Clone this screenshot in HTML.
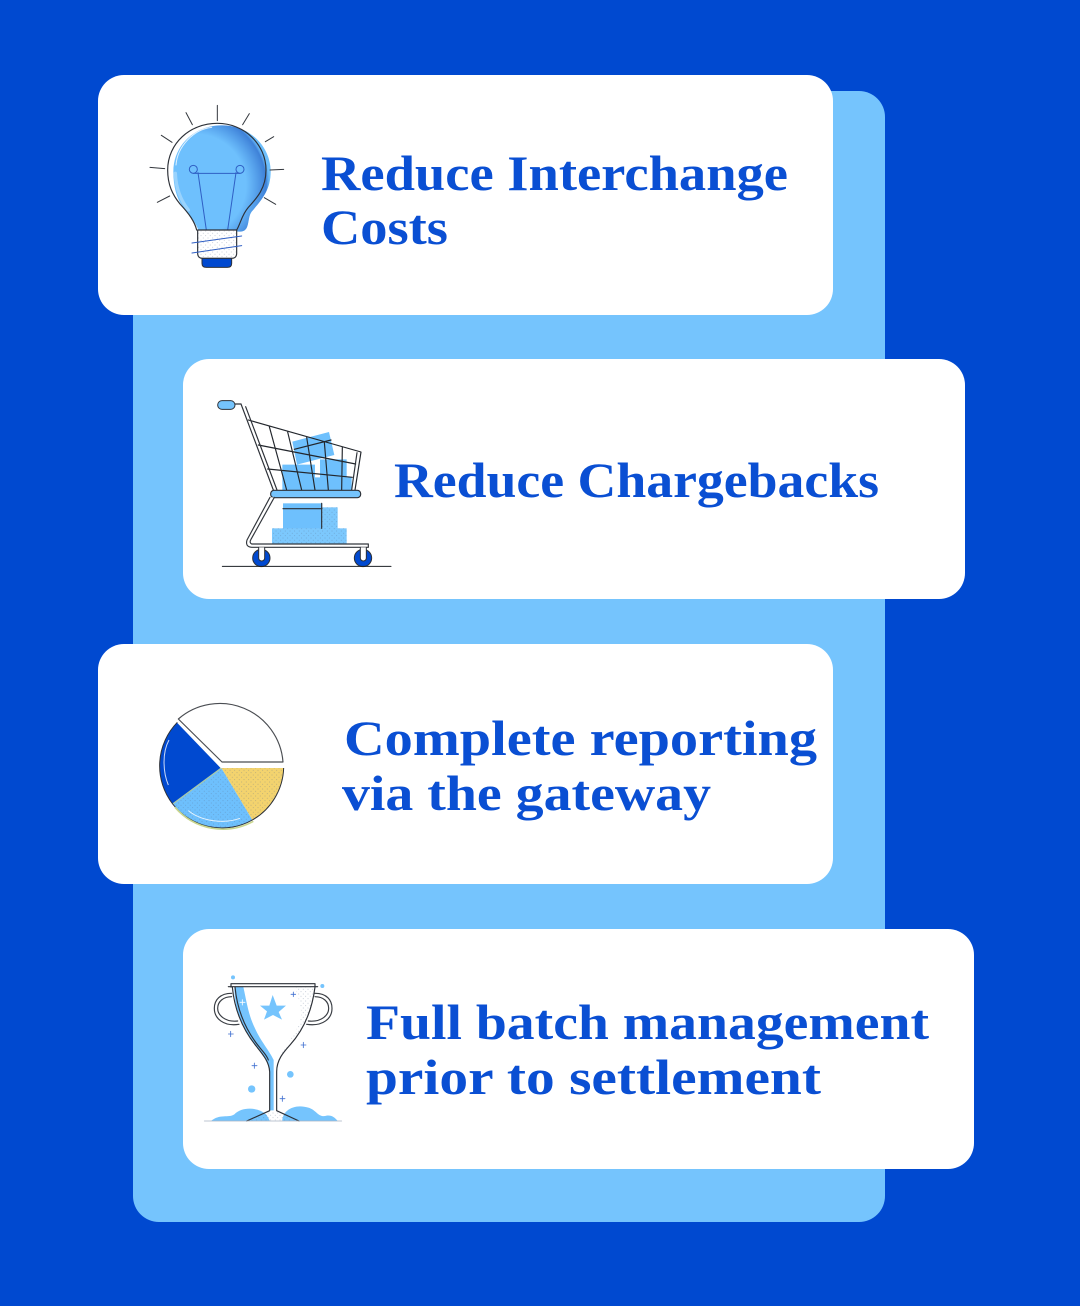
<!DOCTYPE html>
<html lang="en"><head><meta charset="utf-8"><title>Benefits</title>
<style>html,body{margin:0;padding:0;background:#0049d0}svg{display:block}
text{font-family:"Liberation Serif",serif;font-weight:700;font-size:50px;fill:#0a4fd3}</style></head>
<body>
<svg xmlns="http://www.w3.org/2000/svg" width="1080" height="1306" viewBox="0 0 1080 1306">
<defs>
<pattern id="dots" width="14" height="14" patternUnits="userSpaceOnUse"><circle cx="3" cy="3" r="1.5" fill="#5a6f8f" opacity=".4"/><circle cx="10" cy="10" r="1.5" fill="#5a6f8f" opacity=".4"/></pattern>
<pattern id="dotsL" width="15" height="15" patternUnits="userSpaceOnUse"><circle cx="4" cy="4" r="1.7" fill="#7d8899" opacity=".6"/></pattern>
<radialGradient id="shade" gradientUnits="userSpaceOnUse" cx="195" cy="285" r="225"><stop offset=".68" stop-color="#2f6fd0" stop-opacity="0"/><stop offset=".95" stop-color="#2a66c8" stop-opacity=".7"/><stop offset="1" stop-color="#6ec0fd" stop-opacity=".4"/></radialGradient>
</defs>
<rect width="1080" height="1306" fill="#0049d0"/>
<rect x="133" y="91" width="752" height="1131" rx="26" fill="#75c4fd"/>
<rect x="98" y="75" width="735" height="240" rx="26" fill="#fff"/>
<rect x="183" y="359" width="782" height="240" rx="26" fill="#fff"/>
<rect x="98" y="644" width="735" height="240" rx="26" fill="#fff"/>
<rect x="183" y="929" width="791" height="240" rx="26" fill="#fff"/>

<text x="321" y="190" textLength="467" lengthAdjust="spacingAndGlyphs">Reduce Interchange</text>
<text x="321" y="244" textLength="127" lengthAdjust="spacingAndGlyphs">Costs</text>
<text x="394" y="497" textLength="485" lengthAdjust="spacingAndGlyphs">Reduce Chargebacks</text>
<text x="344" y="755" textLength="473" lengthAdjust="spacingAndGlyphs">Complete reporting</text>
<text x="342" y="810" textLength="369" lengthAdjust="spacingAndGlyphs">via the gateway</text>
<text x="366" y="1039" textLength="563" lengthAdjust="spacingAndGlyphs">Full batch management</text>
<text x="366" y="1094" textLength="455" lengthAdjust="spacingAndGlyphs">prior to settlement</text>

<!-- bulb -->
<g transform="translate(130 90) scale(.33333)" fill="none" stroke-linecap="round" stroke-linejoin="round">
<path d="M205 420C195 395 180 375 158 350C140 325 130 290 130 245C130 165 195 106 275 106C360 106 422 170 422 245C422 300 395 330 365 365C350 385 362 425 330 425Z" fill="#6ec0fd"/>
<path d="M205 420C195 395 180 375 158 350C140 325 130 290 130 245C130 165 195 106 275 106C360 106 422 170 422 245C422 300 395 330 365 365C350 385 362 425 330 425Z" fill="url(#shade)"/>
<path d="M136 250C138 300 155 335 175 360" stroke="#fff" stroke-width="10" opacity=".3"/>
<path d="M200 420C194 395 178 372 150 342C128 315 113 285 113 240C113 160 180 100 262 100C345 100 408 165 408 240C408 295 380 325 355 352C335 375 332 400 320 420" stroke="#2d3138" stroke-width="3.5"/>
<path d="M138 225C142 170 190 118 245 112" stroke="#fff" stroke-width="3" opacity=".8"/>
<path d="M229 420L204 248M293 420L318 248M190 250H330" stroke="#2f5fc4" stroke-width="3"/>
<circle cx="190" cy="238" r="12" stroke="#2f5fc4" stroke-width="3"/><circle cx="330" cy="238" r="12" stroke="#2f5fc4" stroke-width="3"/>
<path d="M203 420H320V490Q320 505 305 505H218Q203 505 203 490Z" fill="#fff" stroke="#2d3138" stroke-width="3.5"/>
<rect x="205" y="422" width="113" height="81" fill="url(#dots)"/>
<path d="M216 505H305V520Q305 532 292 532H229Q216 532 216 520Z" fill="#0049d0" stroke="#2d3138" stroke-width="3"/>
<path d="M186 459L335 438M186 489L335 467" stroke="#2f5fc4" stroke-width="3"/>
<path d="M262 46V92M168 68L187 104M94 136L126 157M60 232L104 236M82 337L119 318M358 71L338 104M431 140L406 155M420 240L461 238M403 323L437 343" stroke="#33373d" stroke-width="3"/>
</g>

<!-- cart -->
<g transform="translate(205 390) scale(.33333)" fill="none" stroke-linecap="round" stroke-linejoin="round">
<path d="M262 155L372 126L388 195L276 224Z" fill="#6ec0fd"/>
<path d="M232 224H330V300H232ZM345 208H425V262H440V300H330V262H345Z" fill="#6ec0fd"/>
<rect x="234" y="340" width="118" height="76" fill="#6ec0fd"/>
<rect x="352" y="352" width="46" height="64" fill="#7cc8fd"/><rect x="352" y="352" width="46" height="64" fill="url(#dots)"/>
<rect x="201" y="415" width="224" height="47" fill="#7cc8fd"/><rect x="201" y="415" width="224" height="47" fill="url(#dots)"/>
<path d="M234 356H351M350 340V415" stroke="#2d3138" stroke-width="3.5"/>
<path d="M130 90L468 186L450 300M193 110L245 300M248 126L290 300M305 142L330 300M358 156L370 300M412 172L410 300M160 165L452 222M188 237L442 262M268 178L378 150" stroke="#23272d" stroke-width="3.5"/>
<path d="M108 42L205 300M90 42H108M122 50L216 300M456 188L440 300" stroke="#2d3138" stroke-width="3.5"/>
<rect x="38" y="32" width="52" height="26" rx="13" fill="#75c4fd" stroke="#2d3138" stroke-width="3"/>
<rect x="197" y="301" width="270" height="22" rx="10" fill="#75c4fd" stroke="#2d3138" stroke-width="3.5"/>
<path d="M195 322L126 450Q120 470 140 472H490V462H140Q132 458 138 448L208 322" fill="#fff" stroke="#33373d" stroke-width="3.5"/>
<circle cx="169" cy="504" r="26" fill="#0049d0" stroke="#2d3138" stroke-width="3"/>
<circle cx="474" cy="504" r="26" fill="#0049d0" stroke="#2d3138" stroke-width="3"/>
<path d="M161 472V504A9 9 0 0 0 179 504V472M466 472V504A9 9 0 0 0 484 504V472" fill="#fff" stroke="#2d3138" stroke-width="3"/>
<path d="M52 529H558" stroke="#1d2025" stroke-width="3"/>
</g>

<!-- pie -->
<g transform="translate(145 690) scale(.33333)" stroke-linejoin="round">
<path d="M229 234H416A187 187 0 0 1 322 390Z" fill="#f3d36e"/>
<path d="M229 234H416A187 187 0 0 1 322 390Z" fill="url(#dots)"/>
<path d="M229 234L322 390A187 187 0 0 1 83 342Z" fill="#6ec0fd"/>
<path d="M229 234L322 390A187 187 0 0 1 83 342Z" fill="url(#dots)"/>
<path d="M229 234L97 97A187 187 0 0 0 83 342Z" fill="#0049d0"/>
<path d="M229 234L83 342" stroke="#a9c9a8" stroke-width="4"/>
<path d="M229 234L97 97" stroke="#fff" stroke-width="3"/>
<path d="M72 150C50 190 55 250 70 285M130 362C170 395 240 402 285 385" fill="none" stroke="#fff" stroke-width="3" opacity=".8"/>
<path d="M100 87A190 190 0 0 1 414 216H231Z" fill="#fff" stroke="#4a4d52" stroke-width="3.5"/>
<path d="M416 234A187 187 0 0 1 322 390A187 187 0 0 1 83 342A187 187 0 0 1 97 97" fill="none" stroke="#2d3138" stroke-width="3"/>
<path d="M90 352A190 190 0 0 0 325 394" fill="none" stroke="#c9d68e" stroke-width="5"/>
</g>

<!-- trophy -->
<g transform="translate(195 965) scale(.33333)" fill="none" stroke-linecap="round" stroke-linejoin="round">
<path d="M48 468C75 445 100 460 118 448C140 425 190 425 215 450L225 468ZM262 468C262 435 300 415 340 428C365 435 370 460 395 452C410 450 420 458 428 468Z" fill="#75c4fd"/>
<path d="M118 66H145C155 110 160 150 180 190C195 225 225 260 236 285V436H224V320C222 290 205 270 185 245C140 190 118 130 118 66Z" fill="#75c4fd"/>
<path d="M300 66H358C352 130 330 190 285 240L248 285C265 250 300 210 315 170C325 130 310 100 300 66Z" fill="url(#dots)"/>
<path d="M228 440H250L300 466H165Z" fill="url(#dots)"/>
<path d="M110 85C75 85 58 105 58 130C58 160 85 185 132 178M110 95C85 95 68 110 68 130C68 150 90 172 128 168" stroke="#3a3e44" stroke-width="3.5"/>
<path d="M360 85C395 85 411 105 411 130C411 160 385 185 335 178M360 95C385 95 401 110 401 130C401 150 380 172 340 168" stroke="#3a3e44" stroke-width="3.5"/>
<path d="M108 56H360V66M100 65H368M108 56V66" stroke="#2d3138" stroke-width="3.5"/>
<path d="M112 66C118 130 140 190 185 245C205 270 222 290 224 320V437L155 468M120 66C126 130 148 190 192 245C205 262 215 270 220 285" stroke="#2d3138" stroke-width="3.5"/>
<path d="M360 66C352 130 330 190 285 240C265 262 245 285 245 320V437L312 468" stroke="#2d3138" stroke-width="3.5"/>
<path d="M233 90L245 122L273 122L251 141L261 164L234 150L207 164L216 139L195 122L223 122Z" fill="#75c4fd"/>
<circle cx="114" cy="37" r="6" fill="#75c4fd"/><circle cx="382" cy="63" r="6" fill="#75c4fd"/><circle cx="286" cy="328" r="10" fill="#75c4fd"/><circle cx="170" cy="372" r="11" fill="#75c4fd"/>
<path d="M100 207H115M107 199V215M318 240H333M325 232V248M171 302H186M178 294V310M255 401H270M262 393V409M288 88H302M295 81V95" stroke="#3f6fd0" stroke-width="2.5"/>
<path d="M135 112H150M142 104V120" stroke="#fff" stroke-width="2.5"/>
<path d="M28 468H440" stroke="#a9b4c4" stroke-width="2.5"/>
</g>
</svg>
</body></html>
